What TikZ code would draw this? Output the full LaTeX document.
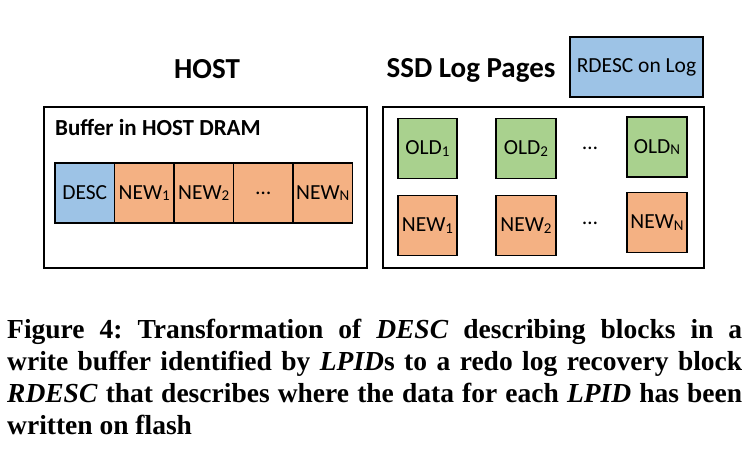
\documentclass[tikz,border=0pt]{standalone}
\usepackage{fontspec}
\setmainfont{Carlito}
\newfontfamily\capfont{Liberation Serif}
\usepackage{tikz}
\usetikzlibrary{positioning}

\definecolor{descblue}{RGB}{157,195,230}
\definecolor{neworange}{RGB}{244,177,131}
\definecolor{oldgreen}{RGB}{169,209,142}
\newcommand{\sub}[1]{\raisebox{-1.5pt}{\fontsize{15}{15}\selectfont #1}}

\begin{document}
\begin{tikzpicture}[
    x=1pt, y=-1pt,
    node distance=17pt and 39pt,
    cell/.style={rectangle, draw, line width=1.6pt, minimum width=59.5pt,
                 minimum height=60pt, inner sep=0pt, outer sep=0pt,
                 font=\fontsize{21.5}{26}\selectfont},
    desccell/.style={cell, fill=descblue},
    newcell/.style={cell, fill=neworange},
    oldcell/.style={cell, fill=oldgreen},
    frame/.style={rectangle, draw, line width=1.6pt, inner sep=0pt,
                  anchor=north west},
    title/.style={font=\fontsize{29}{32}\selectfont\bfseries}
]
    \useasboundingbox (0,0) rectangle (755,462);

    % host side
    \node [title] (host) at (207,69) {HOST};
    \node [frame, minimum width=323pt, minimum height=161pt] (hostbox) at (43,106) {};
    \node [anchor=west, inner sep=0pt, font=\fontsize{23}{26}\selectfont\bfseries]
          (buflabel) at (55,128) {Buffer in HOST DRAM};
    \node [desccell, anchor=north west] (desc) at (55,163) {DESC};
    \node [newcell, right=0pt of desc] (hnew1) {NEW\sub{1}};
    \node [newcell, right=0pt of hnew1] (hnew2) {NEW\sub{2}};
    \node [newcell, right=0pt of hnew2] (hdots) {\ldots};
    \node [newcell, right=0pt of hdots] (hnewn) {NEW\sub{N}};

    % ssd side
    \node [title] (ssd) at (471,70) {SSD Log Pages};
    \node [desccell, minimum width=133pt] (rdesc) at (636.5,67) {RDESC on Log};
    \node [frame, minimum width=321pt, minimum height=161pt] (ssdbox) at (382,106) {};
    \node [oldcell] (old1) at (427.5,148.5) {OLD\sub{1}};
    \node [oldcell, right=of old1] (old2) {OLD\sub{2}};
    \node [oldcell] (oldn) at (657,147) {OLD\sub{N}};
    \node [newcell, below=of old1] (snew1) {NEW\sub{1}};
    \node [newcell, below=of old2] (snew2) {NEW\sub{2}};
    \node [newcell] (snewn) at (657,222.5) {NEW\sub{N}};
    \node [font=\fontsize{21.5}{26}\selectfont] (odots) at (590,148) {\ldots};
    \node [font=\fontsize{21.5}{26}\selectfont] (ndots) at (590,223) {\ldots};

    % caption
    \node [anchor=north west, inner sep=0pt, text width=735pt, align=justify,
           font=\capfont\bfseries\fontsize{27.5}{32}\selectfont\frenchspacing] (caption) at (7,319)
          {Figure 4: Transformation of \textit{DESC} describing blocks in a\linebreak
           write buffer identified by \textit{LPID}s to a redo log recovery block\linebreak
           \textit{RDESC} that describes where the data for each \textit{LPID} has been\linebreak
           written on flash};
\end{tikzpicture}
\end{document}
